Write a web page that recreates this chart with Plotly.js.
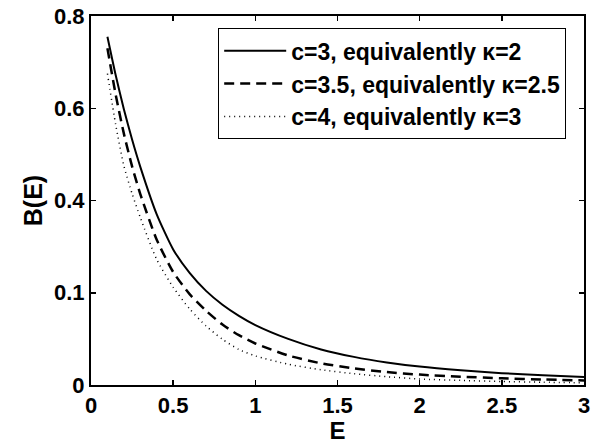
<!DOCTYPE html>
<html>
<head>
<meta charset="utf-8">
<script src="https://cdn.plot.ly/plotly-3.0.1.min.js"></script>
<style>html,body{margin:0;padding:0;background:#fff;}#plot{width:607px;height:444px;}</style>
</head>
<body>
<div id="plot"></div>
<script>
var energy = [0.1,0.15,0.2,0.25,0.3,0.4,0.5,0.6,0.7,0.8,0.9,1.0,1.2,1.4,1.6,1.8,2.0,2.25,2.5,2.75,3.0];
var bC3   = [0.755,0.672,0.598,0.532,0.473,0.370,0.294,0.243,0.204,0.174,0.150,0.130,0.100,0.077,0.061,0.049,0.040,0.032,0.0257,0.021,0.0174];
var bC35  = [0.730,0.630,0.545,0.474,0.414,0.315,0.245,0.197,0.161,0.131,0.108,0.090,0.064,0.047,0.036,0.028,0.0225,0.018,0.0145,0.012,0.010];
var bC4   = [0.675,0.565,0.475,0.415,0.363,0.272,0.212,0.165,0.128,0.099,0.077,0.063,0.045,0.033,0.0245,0.018,0.013,0.010,0.0075,0.006,0.0048];
var seriesNames = ['c=3, equivalently \u03ba=2','c=3.5, equivalently \u03ba=2.5','c=4, equivalently \u03ba=3'];
var xTicks = [0,0.5,1,1.5,2,2.5,3];
var xTickText = ['0','0.5','1','1.5','2','2.5','3'];
var yTicks = [0,0.2,0.4,0.6,0.8];
var yTickText = ['0','0.1','0.4','0.6','0.8'];

var fam = 'Liberation Sans, Arial, sans-serif';
function bold(s){ return '<b>' + s + '</b>'; }
var traces = [
  {x:energy, y:bC3, mode:'lines', name:bold(seriesNames[0]), legendgroup:'a', line:{color:'#000', width:2, dash:'solid', shape:'spline', smoothing:0.6}},
  {x:energy, y:bC35, mode:'lines', name:bold(seriesNames[1]), legendgroup:'b', line:{color:'#000', width:2.5, dash:'10px,6px', shape:'spline', smoothing:0.6}},
  {x:energy, y:bC4, mode:'lines', name:bold(seriesNames[2]), legendgroup:'c', line:{color:'#000', width:1.5, dash:'1px,4px', shape:'spline', smoothing:0.6}}
];
var layout = {
  width:607, height:444,
  margin:{l:91, r:23, t:16, b:59},
  paper_bgcolor:'#fff', plot_bgcolor:'#fff',
  showlegend:true,
  font:{family:fam, color:'#000'},
  xaxis:{range:[0,3], tickvals:xTicks, ticktext:xTickText.map(bold), ticks:'inside', ticklen:5, tickwidth:1.5, tickcolor:'#000',
    showline:true, linecolor:'#000', linewidth:2, mirror:'ticks', showgrid:false, zeroline:false,
    tickfont:{family:fam, size:22, color:'#000'}, ticklabelstandoff:0, automargin:false,
    title:{text:bold('E'), font:{family:fam, size:24, color:'#000'}, standoff:4}},
  yaxis:{range:[0,0.8], tickvals:yTicks, ticktext:yTickText.map(bold), ticks:'inside', ticklen:5, tickwidth:1.5, tickcolor:'#000',
    showline:true, linecolor:'#000', linewidth:2, mirror:'ticks', showgrid:false, zeroline:false,
    tickfont:{family:fam, size:22, color:'#000'}, automargin:false,
    title:{text:bold('B(E)'), font:{family:fam, size:25, color:'#000'}, standoff:4}},
  legend:{x:0.258, y:0.967, xanchor:'left', yanchor:'top', bgcolor:'#fff', bordercolor:'#000', borderwidth:1,
    font:{family:fam, size:23, color:'#000'}, itemwidth:62, tracegroupgap:1, traceorder:'normal'}
};
Plotly.newPlot('plot', traces, layout, {displayModeBar:false, staticPlot:true});
</script>
</body>
</html>
